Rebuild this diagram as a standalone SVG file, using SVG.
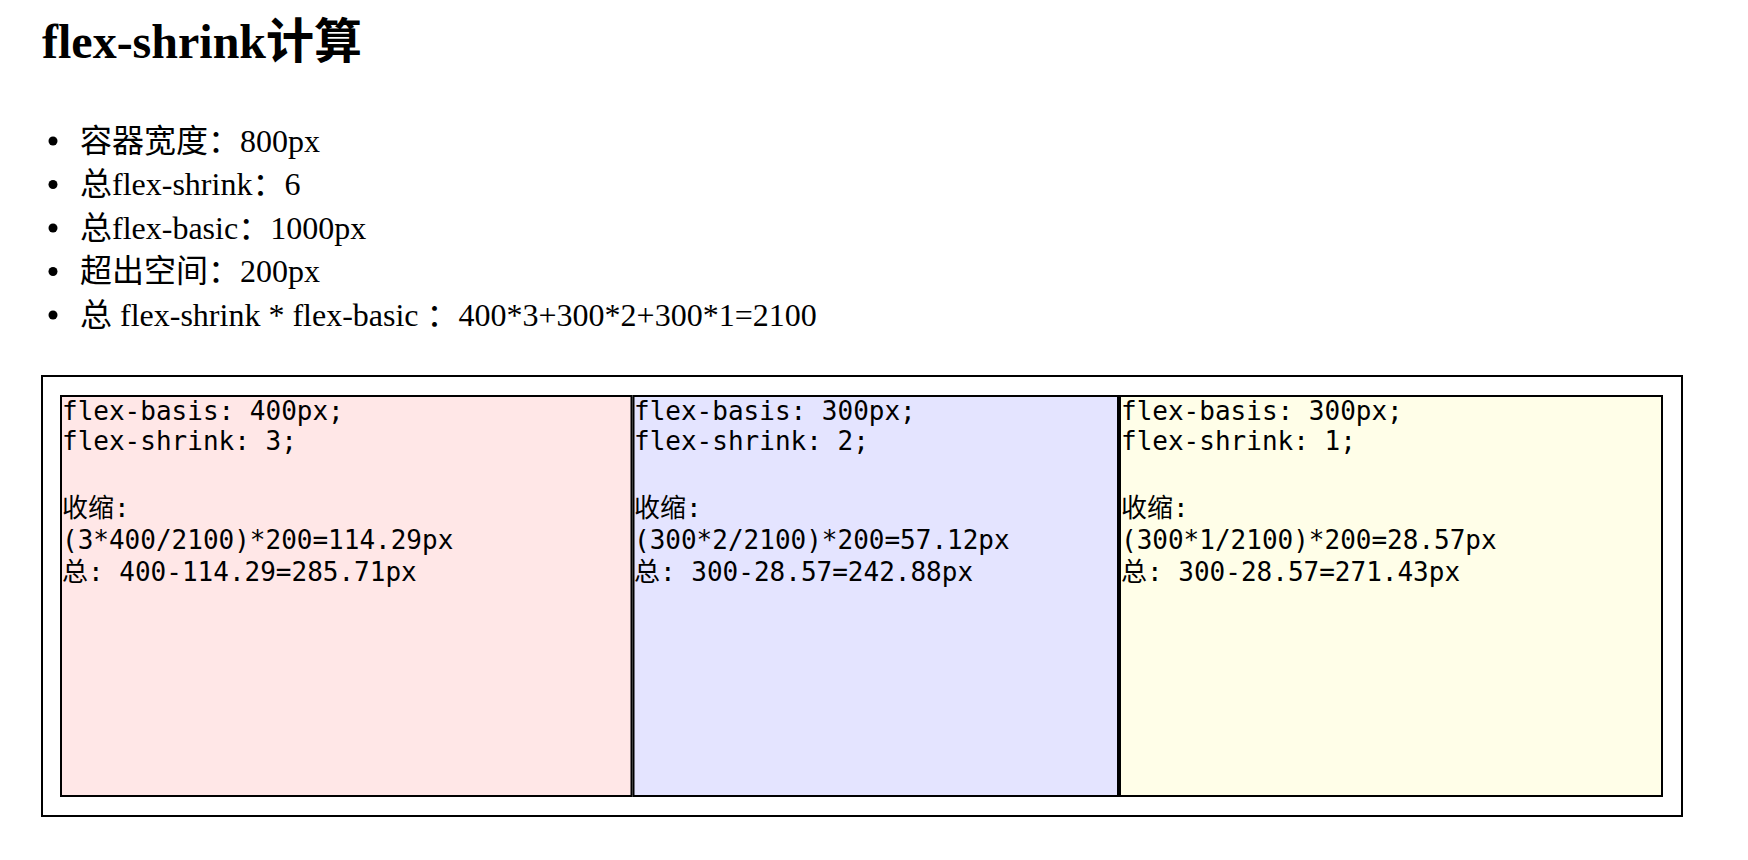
<svg xmlns="http://www.w3.org/2000/svg" width="1748" height="860" viewBox="0 0 1748 860">
  <style>
    .title { font-family: "Liberation Serif", "Noto Sans CJK SC", serif; font-size: 48px; font-weight: bold; fill: #000; }
    .li { font-family: "Liberation Serif", "Noto Sans CJK SC", serif; font-size: 32px; fill: #000; white-space: pre; }
    .bullet { fill: #000; }
    .mono { font-family: "DejaVu Sans Mono", "Noto Sans CJK SC", monospace; font-size: 26px; fill: #000; white-space: pre; }
    .frame { fill: #ffffff; stroke: #000; stroke-width: 2; }
    .box { stroke: #000; stroke-width: 2; }
    .pink { fill: #ffe7e7; }
    .blue { fill: #e4e4ff; }
    .yellow { fill: #fffee8; }
  </style>
  <rect x="0" y="0" width="1748" height="860" fill="#ffffff"/>

  <g id="title">
    <text class="title" x="42" y="58">flex-shrink计算</text>
  </g>

  <g id="list">
    <g id="item1">
      <circle class="bullet" cx="53" cy="141" r="4.5"/>
      <text class="li" x="80" y="151.5">容器宽度：800px</text>
    </g>
    <g id="item2">
      <circle class="bullet" cx="53" cy="184.5" r="4.5"/>
      <text class="li" x="80" y="195">总flex-shrink：6</text>
    </g>
    <g id="item3">
      <circle class="bullet" cx="53" cy="228" r="4.5"/>
      <text class="li" x="80" y="238.5">总flex-basic：1000px</text>
    </g>
    <g id="item4">
      <circle class="bullet" cx="53" cy="271.5" r="4.5"/>
      <text class="li" x="80" y="282">超出空间：200px</text>
    </g>
    <g id="item5">
      <circle class="bullet" cx="53" cy="315" r="4.5"/>
      <text class="li" x="80" y="325.5">总 flex-shrink * flex-basic ：400*3+300*2+300*1=2100</text>
    </g>
  </g>

  <g id="container">
    <rect class="frame" x="42" y="376" width="1640" height="440"/>
  </g>

  <g id="box1">
    <rect class="box pink" x="61" y="396" width="570.5" height="400"/>
    <text class="mono" x="62" y="420">flex-basis: 400px;</text>
    <text class="mono" x="62" y="450">flex-shrink: 3;</text>
    <text class="mono" x="62" y="517">收缩:</text>
    <text class="mono" x="62" y="549">(3*400/2100)*200=114.29px</text>
    <text class="mono" x="62" y="581">总: 400-114.29=285.71px</text>
  </g>

  <g id="box2">
    <rect class="box blue" x="633.5" y="396" width="484.5" height="400"/>
    <text class="mono" x="634" y="420">flex-basis: 300px;</text>
    <text class="mono" x="634" y="450">flex-shrink: 2;</text>
    <text class="mono" x="634" y="517">收缩:</text>
    <text class="mono" x="634" y="549">(300*2/2100)*200=57.12px</text>
    <text class="mono" x="634" y="581">总: 300-28.57=242.88px</text>
  </g>

  <g id="box3">
    <rect class="box yellow" x="1120" y="396" width="542" height="400"/>
    <text class="mono" x="1121" y="420">flex-basis: 300px;</text>
    <text class="mono" x="1121" y="450">flex-shrink: 1;</text>
    <text class="mono" x="1121" y="517">收缩:</text>
    <text class="mono" x="1121" y="549">(300*1/2100)*200=28.57px</text>
    <text class="mono" x="1121" y="581">总: 300-28.57=271.43px</text>
  </g>

  <g id="connectors"/>
</svg>
